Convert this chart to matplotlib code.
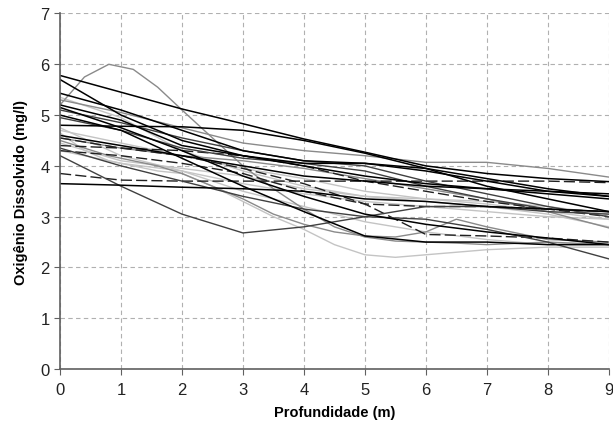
import matplotlib
matplotlib.use("Agg")
import matplotlib.pyplot as plt

plt.rcParams['font.family'] = ['Liberation Sans', 'DejaVu Sans']

# profundidade (m)
depth = [0, 1, 2, 3, 4, 5, 6, 7, 8, 9]
depth_fine = [0, 0.4, 0.8, 1.2, 1.6, 2, 2.5, 3, 3.5, 4, 4.5, 5, 5.5, 6, 6.5, 7, 8, 9]

# oxigenio dissolvido (mg/l) - perfis em profundidades inteiras
od_black = [
    [5.78, 5.45, 5.12, 4.83, 4.53, 4.27, 4.00, 3.85, 3.75, 3.69],
    [5.70, 5.00, 4.50, 4.20, 4.05, 4.05, 3.90, 3.70, 3.50, 3.40],
    [5.43, 5.10, 4.70, 4.30, 4.10, 4.05, 3.95, 3.75, 3.55, 3.40],
    [4.80, 4.78, 4.77, 4.70, 4.50, 4.25, 3.95, 3.60, 3.35, 3.10],
    [5.20, 4.90, 4.40, 4.20, 4.00, 3.80, 3.65, 3.55, 3.45, 3.35],
    [5.15, 4.75, 4.30, 3.80, 3.40, 3.05, 2.85, 2.70, 2.58, 2.45],
    [5.00, 4.70, 4.15, 3.60, 3.10, 2.62, 2.50, 2.50, 2.45, 2.45],
    [4.60, 4.40, 4.20, 4.00, 3.80, 3.70, 3.60, 3.55, 3.50, 3.45],
    [3.65, 3.62, 3.58, 3.55, 3.50, 3.35, 3.30, 3.20, 3.15, 3.10],
]
od_dark = [
    [4.20, 3.60, 3.05, 2.68, 2.80, 3.00, 3.20, 3.20, 3.10, 3.05],
    [4.35, 4.00, 3.70, 3.40, 3.15, 3.00, 2.95, 2.75, 2.50, 2.17],
    [5.10, 4.85, 4.55, 4.30, 4.10, 4.00, 3.70, 3.45, 3.20, 3.00],
    [4.95, 4.70, 4.35, 4.15, 4.05, 3.90, 3.60, 3.35, 3.15, 3.10],
]
od_gray = [
    [5.30, 5.05, 4.75, 4.45, 4.30, 4.20, 4.07, 4.07, 3.95, 3.78],
    [4.55, 4.35, 4.20, 4.10, 3.95, 3.75, 3.55, 3.35, 3.10, 2.78],
]
od_light = [
    [4.70, 4.45, 4.20, 3.95, 3.75, 3.50, 3.35, 3.25, 3.10, 2.95],
    [4.45, 4.10, 3.95, 3.80, 3.55, 3.40, 3.30, 3.20, 3.05, 2.80],
    [4.75, 4.20, 3.90, 3.50, 3.20, 2.90, 2.70, 2.55, 2.45, 2.45],
    [4.30, 4.05, 3.90, 3.65, 3.45, 3.30, 3.20, 3.10, 3.00, 2.95],
    [5.35, 4.95, 4.30, 3.90, 3.60, 3.40, 3.35, 3.30, 3.20, 3.05],
]
od_dashed = [
    [3.85, 3.72, 3.70, 3.70, 3.70, 3.70, 3.70, 3.70, 3.70, 3.67],
    [4.40, 4.35, 4.30, 4.20, 4.00, 3.70, 3.50, 3.30, 3.15, 3.00],
    [4.55, 4.35, 4.20, 3.95, 3.65, 3.25, 3.20, 3.20, 3.15, 3.10],
    [4.30, 4.20, 4.05, 3.85, 3.50, 3.25, 2.65, 2.62, 2.58, 2.50],
]

# perfis com mais pontos
od_hump = [5.20, 5.75, 6.00, 5.90, 5.55, 5.10, 4.55, 4.00, 3.55, 3.15, 2.80, 2.60, 2.52, 2.50, 2.48, 2.45, 2.50, 2.45]
od_rise = [4.50, 4.35, 4.20, 4.10, 4.00, 3.85, 3.60, 3.35, 3.05, 2.85, 2.70, 2.62, 2.60, 2.70, 2.95, 2.80, 2.55, 2.50]
od_dip = [4.65, 4.30, 4.10, 4.00, 3.90, 3.85, 3.60, 3.30, 3.00, 2.75, 2.45, 2.25, 2.20, 2.25, 2.30, 2.35, 2.40, 2.40]

fig = plt.figure(figsize=(6.13, 4.39), dpi=100)
ax = fig.add_axes([0.098, 0.157, 0.895, 0.81])

for v in od_light:
    ax.plot(depth, v, color='#c4c4c4', lw=1.0)
ax.plot(depth_fine, od_dip, color='#c4c4c4', lw=1.0)
for v in od_gray:
    ax.plot(depth, v, color='#8a8a8a', lw=1.0)
ax.plot(depth_fine, od_hump, color='#8a8a8a', lw=1.0)
ax.plot(depth_fine, od_rise, color='#8a8a8a', lw=1.0)
for v in od_dashed:
    ax.plot(depth, v, color='#202020', lw=1.0, dashes=(8, 3))
for v in od_dark:
    ax.plot(depth, v, color='#404040', lw=1.0)
for v in od_black:
    ax.plot(depth, v, color='#000000', lw=1.1)

ax.set_xlim(0, 9)
ax.set_ylim(0, 7)
ax.set_xticks(range(0, 10))
ax.set_yticks(range(0, 8))
ax.grid(True, color='#b0b0b0', linestyle=(0, (4, 3)), lw=0.8)
ax.set_axisbelow(True)
for s in ['top', 'right']:
    ax.spines[s].set_visible(False)
for s in ['left', 'bottom']:
    ax.spines[s].set_color('#606060')
    ax.spines[s].set_linewidth(1.2)
ax.tick_params(colors='#606060', labelcolor='#222222', labelsize=12, length=4, direction='out')
ax.tick_params(axis='x', pad=5)
ax.set_xlabel('Profundidade (m)', fontsize=10.5, fontweight='bold', labelpad=6)
ax.set_ylabel('Oxigênio Dissolvido (mg/l)', fontsize=10.5, fontweight='bold', labelpad=9)

fig.savefig('out.png', dpi=100)
